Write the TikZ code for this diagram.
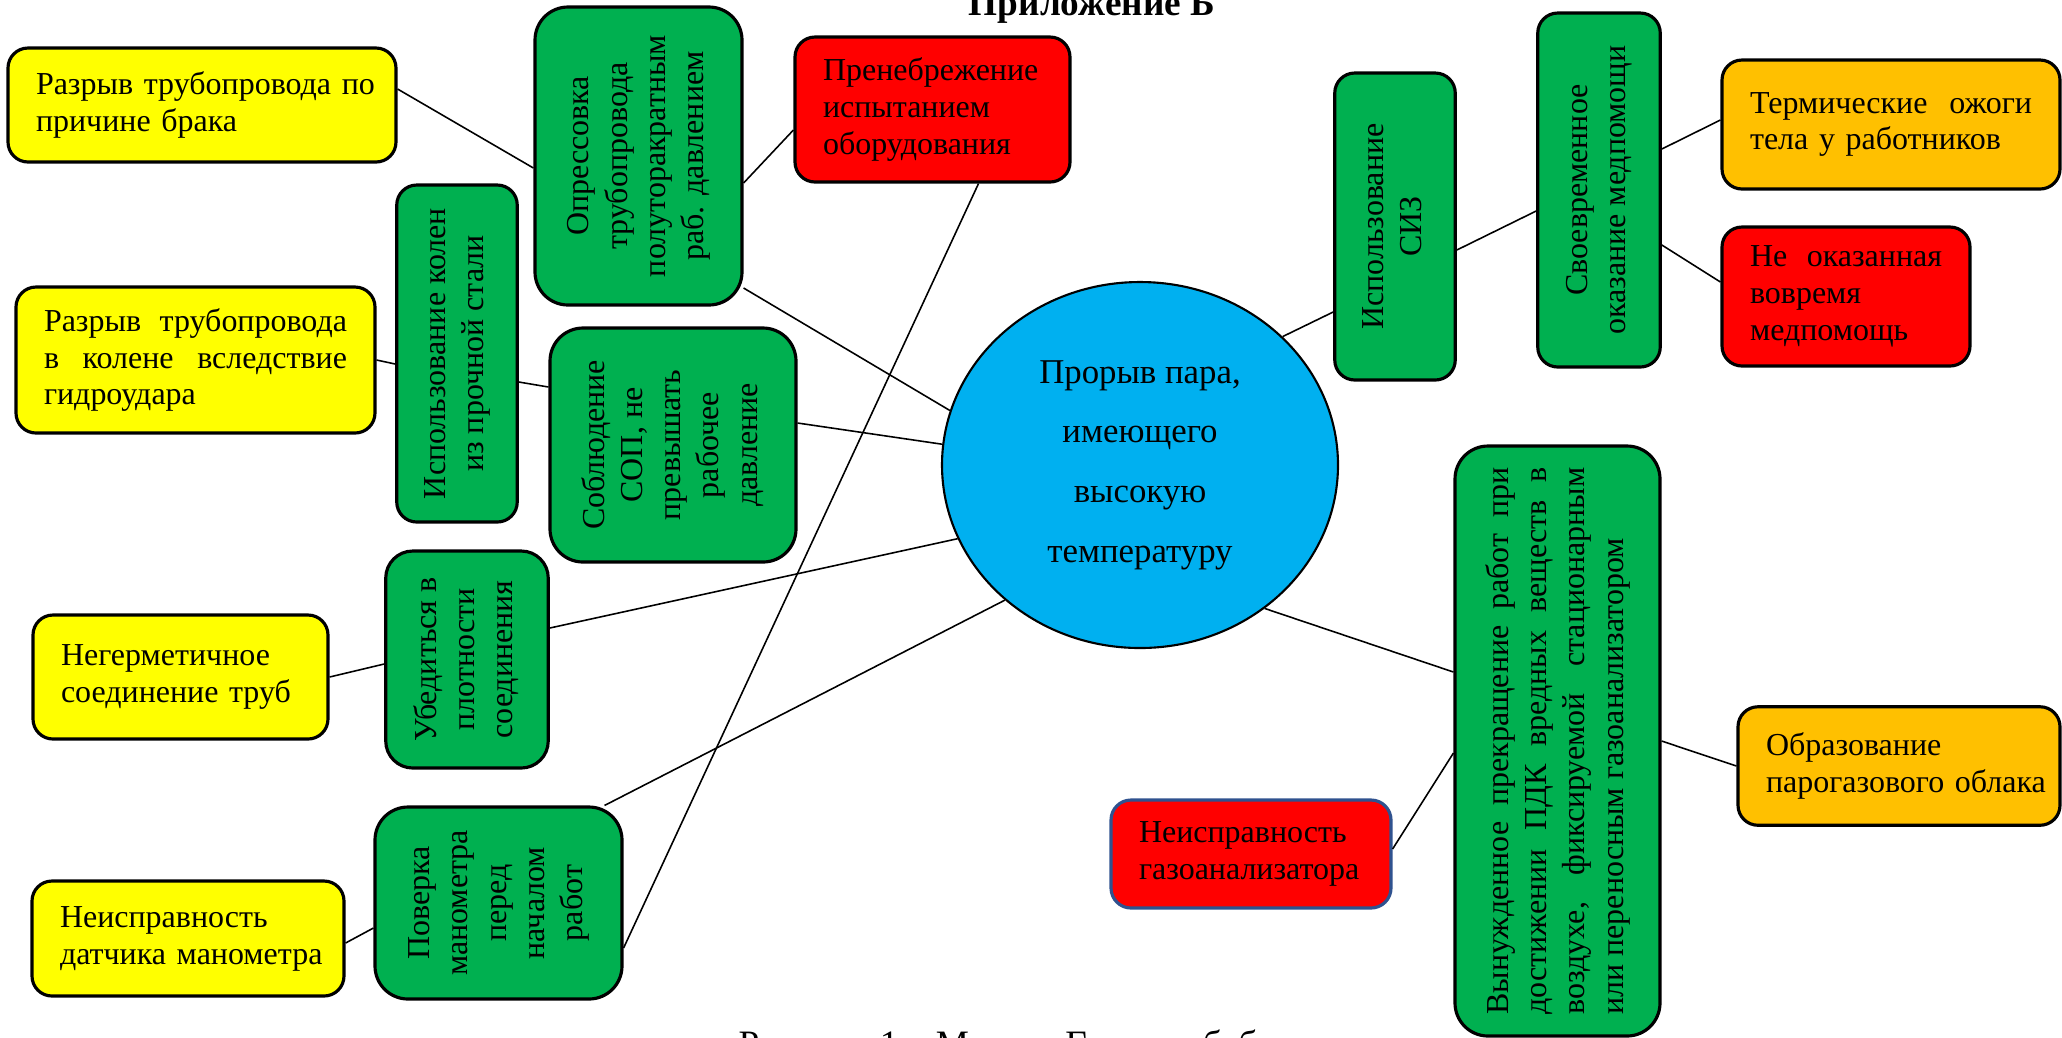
\documentclass[tikz,border=0pt]{standalone}
\usepackage{fontspec}
\setmainfont{Liberation Serif}
\usepackage{graphicx}
\usepackage{xcolor}
\definecolor{causeYellow}{RGB}{255, 255, 0}
\definecolor{barGreen}{RGB}{0, 176, 80}
\definecolor{topBlue}{RGB}{0, 176, 240}
\definecolor{faultRed}{RGB}{255, 0, 0}
\definecolor{faultEdge}{RGB}{47, 82, 143}
\definecolor{effectOrange}{RGB}{255, 192, 0}
\usetikzlibrary{shapes.geometric}

\newcommand{\vtxt}[1]{\rotatebox{90}{\begin{tabular}{@{}c@{}}#1\end{tabular}}}

\begin{document}
\begin{tikzpicture}[x=0.1mm, y=-0.1mm,
  blk/.style={draw, line width=0.9pt, rounded corners=2mm, inner sep=0pt,
              font=\fontsize{9.1}{10.5}\selectfont},
  cause/.style={blk, fill=causeYellow, align=left, inner xsep=2.8mm},
  fault/.style={blk, fill=faultRed, align=left, inner xsep=2.8mm},
  effect/.style={blk, fill=effectOrange, align=left, inner xsep=2.8mm},
  bar/.style={blk, fill=barGreen, rounded corners=3.3mm,
              font=\fontsize{9.1}{10.9}\selectfont},
  link/.style={line width=0.45pt}
]
\useasboundingbox (0,0) rectangle (2062,1037);
\clip (0,0) rectangle (2062,1037);

%% -- event -----------------------------------------------------
\node[ellipse, draw, line width=0.6pt, fill=topBlue, minimum width=39.6mm,
      minimum height=36.6mm, inner sep=0pt, align=center,
      font=\fontsize{9.9}{17}\selectfont] (steam) at (1140,465)
      {Прорыв пара,\\имеющего\\высокую\\температуру};

%% -- causes ----------------------------------------------------
\node[cause, minimum width=38.8mm, minimum height=11.4mm, text width=33.2mm] (y1) at (202,105)
      {\mbox{Разрыв трубопровода по}\\причине брака};
\node[cause, minimum width=35.9mm, minimum height=14.6mm, text width=30.3mm] (y2) at (195.5,360)
      {Разрыв \hfill трубопровода\\в \hfill колене \hfill вследствие\\гидроудара};
\node[cause, minimum width=29.5mm, minimum height=12.4mm, text width=23.9mm] (y3) at (180.5,677)
      {Негерметичное\\соединение труб};
\node[cause, minimum width=31.2mm, minimum height=11.5mm, text width=25.6mm] (y4) at (188,938.5)
      {Неисправность\\\mbox{датчика манометра}};
\node[fault, minimum width=27.5mm, minimum height=14.5mm, text width=21.9mm] (r1) at (932.5,109.5)
      {Пренебрежение\\испытанием\\оборудования};

%% -- barriers --------------------------------------------------
\node[bar, minimum width=20.7mm, minimum height=29.8mm] (g1) at (638.5,156)
      {\vtxt{Опрессовка\\трубопровода\\полуторакратным\\раб. давлением}};
\node[bar, rounded corners=2mm, minimum width=12.05mm, minimum height=33.7mm] (g2) at (457,353.5)
      {\vtxt{Использование колен\\из прочной стали}};
\node[bar, minimum width=24.6mm, minimum height=23.4mm] (g3) at (673,445)
      {\vtxt{Соблюдение\\СОП, не\\превышать\\рабочее\\давление}};
\node[bar, rounded corners=2.7mm, minimum width=16.25mm, minimum height=21.7mm] (g4) at (467,659.5)
      {\vtxt{Убедиться в\\плотности\\соединения}};
\node[bar, minimum width=24.7mm, minimum height=19.2mm] (g5) at (498.5,903)
      {\vtxt{Поверка\\манометра\\перед\\началом\\работ}};
\node[bar, rounded corners=2mm, minimum width=12.05mm, minimum height=30.7mm] (g6) at (1395,226.5)
      {\vtxt{Использование\\СИЗ}};
\node[bar, rounded corners=2mm, minimum width=12.25mm, minimum height=35.4mm] (g7) at (1599,190)
      {\vtxt{Своевременное\\оказание медпомощи}};
\node[bar, minimum width=20.5mm, minimum height=59mm] (g8) at (1557.5,741)
      {\rotatebox{90}{\parbox{54.7mm}{Вынужденное \hfill прекращение \hfill работ \hfill при\\
       достижении \hfill ПДК \hfill вредных \hfill веществ \hfill в\\
       воздухе, \hfill фиксируемой \hfill стационарным\\
       или переносным газоанализатором}}};

%% -- consequences ----------------------------------------------
\node[effect, minimum width=33.8mm, minimum height=12.9mm, text width=28.2mm] (o1) at (1891,124.5)
      {Термические \hfill ожоги\\тела у работников};
\node[fault, minimum width=24.8mm, minimum height=13.9mm, text width=19.2mm] (r2) at (1846,296.5)
      {Не \hfill оказанная\\вовремя\\медпомощь};
\node[fault, draw=faultEdge, minimum width=28mm, minimum height=10.8mm, text width=22.4mm] (r3) at (1251,854)
      {Неисправность\\газоанализатора};
\node[effect, minimum width=32.2mm, minimum height=11.85mm, text width=26.6mm] (o2) at (1899,766)
      {Образование\\\mbox{парогазового облака}};

%% -- links -----------------------------------------------------
\draw[link] ([yshift=1.6mm]y1.east) -- ([yshift=-1.2mm]g1.west);
\draw[link] ([yshift=-2.7mm]g1.east) -- ([yshift=-2.05mm]r1.west);
\draw[link] ([yshift=-13.2mm]g1.east) -- (steam.164);
\draw[link] ([xshift=4.6mm]r1.south) -- ([yshift=-4.5mm]g5.east);
\draw[link] (y2.east) -- ([yshift=-1.05mm]g2.west);
\draw[link] ([yshift=-2.85mm]g2.east) -- ([yshift=5.8mm]g3.west);
\draw[link] ([yshift=2.2mm]g3.east) -- (steam.174);
\draw[link] ([yshift=3.15mm]g4.east) -- (steam.-158);
\draw[link] (y3.east) -- ([yshift=-0.45mm]g4.west);
\draw[link] ([xshift=-1.9mm]g5.north east) -- (steam.-135);
\draw[link] ([yshift=-0.45mm]y4.east) -- ([yshift=-2.5mm]g5.west);
\draw[link] (steam.42) -- ([yshift=-8.55mm]g6.west);
\draw[link] ([yshift=-2.35mm]g6.east) -- ([yshift=-2.1mm]g7.west);
\draw[link] ([yshift=4.1mm]g7.east) -- ([yshift=0.45mm]o1.west);
\draw[link] ([yshift=-5.5mm]g7.east) -- ([yshift=1.45mm]r2.west);
\draw[link] (steam.-49) -- ([yshift=6.9mm]g8.west);
\draw[link] ([yshift=0.5mm]r3.east) -- ([yshift=-1.2mm]g8.west);
\draw[link] (g8.east) -- (o2.west);

%% -- title and caption -----------------------------------------
\node[anchor=base, inner sep=0pt, font=\fontsize{10.6}{12}\selectfont\bfseries] (title) at (1092,15)
      {Приложение Б};
\node[anchor=base west, inner sep=0pt, font=\fontsize{10.6}{12}\selectfont] (caption) at (738,1056)
      {Рисунок 1 – Метод «Галстук-бабочка»};
\end{tikzpicture}
\end{document}
